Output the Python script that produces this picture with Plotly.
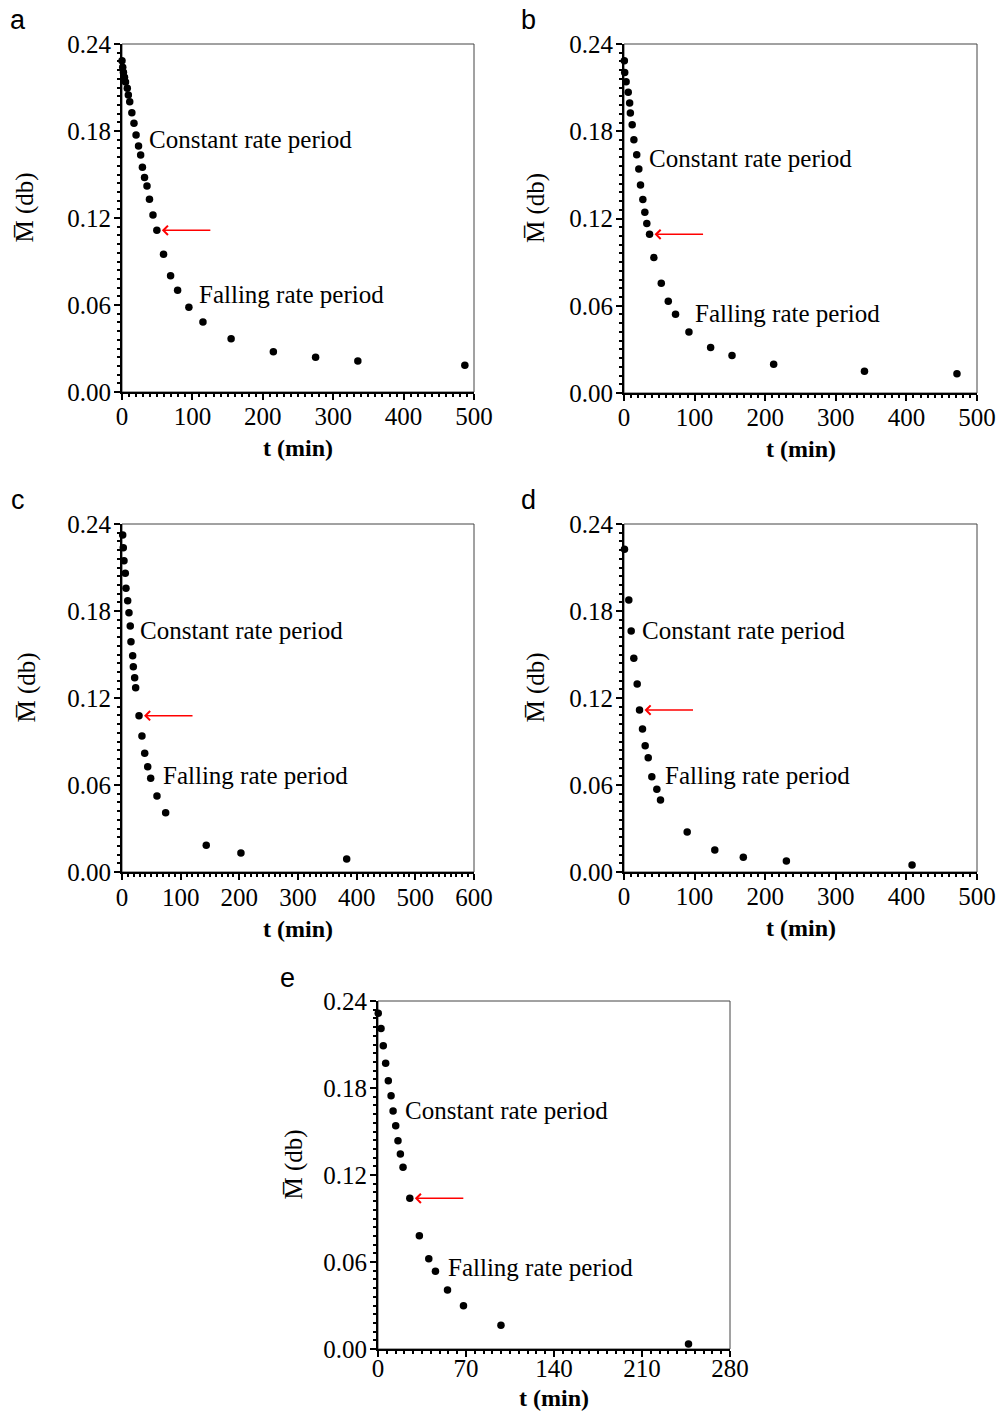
import plotly.graph_objects as go

# ---------------- data ----------------
a_t = [0, 1, 2, 3.5, 5, 7.5, 9, 11, 14, 17, 20, 23.5, 26.5, 29, 32, 35.5, 39, 44, 49.5,
       59, 69, 79, 95, 115, 155, 215, 275, 335, 487]
a_M = [0.2285, 0.224, 0.2205, 0.217, 0.2138, 0.2094, 0.2048, 0.2002, 0.1926, 0.1853, 0.1772,
       0.1697, 0.1634, 0.155, 0.148, 0.142, 0.1329, 0.122, 0.1115, 0.095, 0.0802, 0.0701,
       0.0584, 0.0483, 0.0368, 0.0278, 0.0239, 0.0214, 0.0184]

b_t = [0.5, 1, 3, 6, 8, 9, 11.6, 14, 18, 21, 23.4, 26.7, 29.5, 32.3, 36.2, 42.3, 52.8, 62.7,
       73, 92, 122.7, 153, 212, 340.6, 471.6]
b_M = [0.2284, 0.2204, 0.214, 0.2069, 0.1994, 0.1925, 0.1845, 0.1742, 0.1639, 0.1541, 0.1431,
       0.1331, 0.1243, 0.1166, 0.1091, 0.0931, 0.0754, 0.0631, 0.0542, 0.042, 0.0313, 0.0258,
       0.0197, 0.0149, 0.0132]

c_t = [1.2, 2.2, 3.4, 5.6, 6.8, 9.7, 11.9, 14.1, 15.3, 18.2, 19.3, 21.6, 23.3, 29, 34, 38.7,
       43.8, 48.9, 59.6, 74.4, 143.6, 202.7, 383]
c_M = [0.2324, 0.2237, 0.2147, 0.206, 0.1957, 0.1871, 0.1788, 0.1697, 0.1588, 0.1492, 0.1416,
       0.134, 0.1271, 0.1078, 0.0938, 0.0819, 0.0726, 0.0646, 0.0524, 0.0409, 0.0184, 0.0131,
       0.009]

d_t = [0.7, 6.8, 10.2, 13.9, 18.7, 22, 26.2, 30, 34.3, 39.4, 46.5, 51.7, 89.5, 128.6, 169,
       230, 408]
d_M = [0.2226, 0.1876, 0.1662, 0.1474, 0.1297, 0.1117, 0.0986, 0.0871, 0.0788, 0.0657, 0.057,
       0.0497, 0.0276, 0.0152, 0.0101, 0.0076, 0.0048]

e_t = [0.2, 2.4, 4.2, 6.1, 8.2, 10.4, 12, 14.1, 15.9, 17.8, 19.9, 25.3, 32.9, 40.4, 45.7,
       55.3, 68, 97.8, 247]
e_M = [0.2315, 0.221, 0.2092, 0.197, 0.185, 0.1747, 0.1641, 0.154, 0.1436, 0.1345, 0.1253,
       0.1039, 0.0781, 0.0623, 0.0536, 0.0407, 0.0299, 0.0163, 0.0034]

panel_letters = ["a", "b", "c", "d", "e"]
x_ranges = [[0, 500], [0, 500], [0, 600], [0, 500], [0, 280]]
x_dticks = [100, 100, 100, 100, 70]
x_minor = [10, 10, 10, 10, 7]
y_ticks = [0.00, 0.06, 0.12, 0.18, 0.24]
arrow_index = [18, 14, 13, 5, 11]
label_constant = "Constant rate period"
label_falling = "Falling rate period"
x_title = "<b>t (min)</b>"
y_title = "M\u0305 (db)"

# ---------------- layout geometry (pixels) ----------------
W, H = 999, 1413
boxes = [  # left, right, top, bottom
    (122, 474, 44, 392),
    (624, 977, 44, 393),
    (122, 474, 524, 872),
    (624, 977, 524, 872),
    (378, 730, 1001, 1349),
]
const_pos = [(147, 139), (647, 158), (138, 630), (640, 630), (403, 1110)]
fall_pos = [(197, 294), (693, 313), (161, 775), (663, 775), (446, 1267)]
letter_pos = [(18, 20), (528, 20), (18, 500), (528, 500), (287, 978)]
ytitle_off = [97, 88, 95, 88, 84]
xtick_standoff = [-5, -5, -4, -5, -10]
xtitle_off = [56, 56, 57, 56, 49]

series = [(a_t, a_M), (b_t, b_M), (c_t, c_M), (d_t, d_M), (e_t, e_M)]

SERIF = "Liberation Serif"
SANS = "Liberation Sans"

fig = go.Figure()
annotations = []
shapes = []

for i, ((tt, mm), box) in enumerate(zip(series, boxes)):
    n = i + 1
    xs = "" if n == 1 else str(n)
    L, R, T, B = box
    xdom = [L / W, R / W]
    ydom = [1 - B / H, 1 - T / H]
    fig.add_trace(go.Scatter(
        x=tt, y=mm, mode="markers",
        marker=dict(color="black", size=7.5),
        xaxis="x" + xs, yaxis="y" + xs, showlegend=False, cliponaxis=False,
    ))
    axis_common = dict(
        showline=True, linecolor="black", linewidth=2, mirror=False,
        ticks="outside", ticklen=6, tickwidth=1.5, tickcolor="black",
        showgrid=False, zeroline=False, automargin=False,
        tickfont=dict(family=SERIF, size=25, color="black"),
    )
    fig.update_layout(**{
        "xaxis" + xs: dict(
            domain=xdom, range=x_ranges[i], tick0=0, dtick=x_dticks[i],
            anchor="y" + xs,
            minor=dict(dtick=x_minor[i], ticks="outside", ticklen=3, tickcolor="black"),
            ticklabelstandoff=xtick_standoff[i],
            **axis_common),
        "yaxis" + xs: dict(
            domain=ydom, range=[0, 0.24], tickvals=y_ticks, tickformat=".2f",
            anchor="x" + xs,
            minor=dict(dtick=0.006, ticks="outside", ticklen=3, tickcolor="black"),
            ticklabelstandoff=-2,
            **axis_common),
    })
    xr = "x" + xs
    yr = "y" + xs
    shapes.append(dict(type="rect", xref=xr + " domain", yref=yr + " domain",
                       x0=0, x1=1, y0=0, y1=1, line=dict(color="#444", width=1),
                       layer="below"))
    k = arrow_index[i]
    annotations.append(dict(
        x=tt[k], y=mm[k], xref=xr, yref=yr, text="", showarrow=True,
        ax=55, ay=0, axref="pixel", ayref="pixel",
        arrowcolor="red", arrowwidth=1.5, arrowhead=4, arrowsize=1.2, standoff=5,
    ))
    for txt, (px, py) in ((label_constant, const_pos[i]), (label_falling, fall_pos[i])):
        annotations.append(dict(
            x=(px - L) / (R - L), y=(B - py) / (B - T),
            xref=xr + " domain", yref=yr + " domain",
            text=txt, showarrow=False, xanchor="left", yanchor="middle",
            font=dict(family=SERIF, size=25, color="black"),
        ))
    annotations.append(dict(
        x=0.5, y=-xtitle_off[i] / (B - T), xref=xr + " domain", yref=yr + " domain",
        text=x_title, showarrow=False, xanchor="center", yanchor="middle",
        font=dict(family=SERIF, size=24, color="black"),
    ))
    annotations.append(dict(
        x=-ytitle_off[i] / (R - L), y=0.53, xref=xr + " domain", yref=yr + " domain",
        text=y_title, showarrow=False, xanchor="center", yanchor="middle", textangle=-90,
        font=dict(family=SERIF, size=25, color="black"),
    ))
    lx, ly = letter_pos[i]
    annotations.append(dict(
        x=lx / W, y=1 - ly / H, xref="paper", yref="paper",
        text=panel_letters[i], showarrow=False, xanchor="center", yanchor="middle",
        font=dict(family=SANS, size=27, color="black"),
    ))

fig.update_layout(
    width=W, height=H, margin=dict(l=0, r=0, t=0, b=0),
    paper_bgcolor="white", plot_bgcolor="white",
    annotations=annotations, shapes=shapes,
)

fig.write_html("out.html")
